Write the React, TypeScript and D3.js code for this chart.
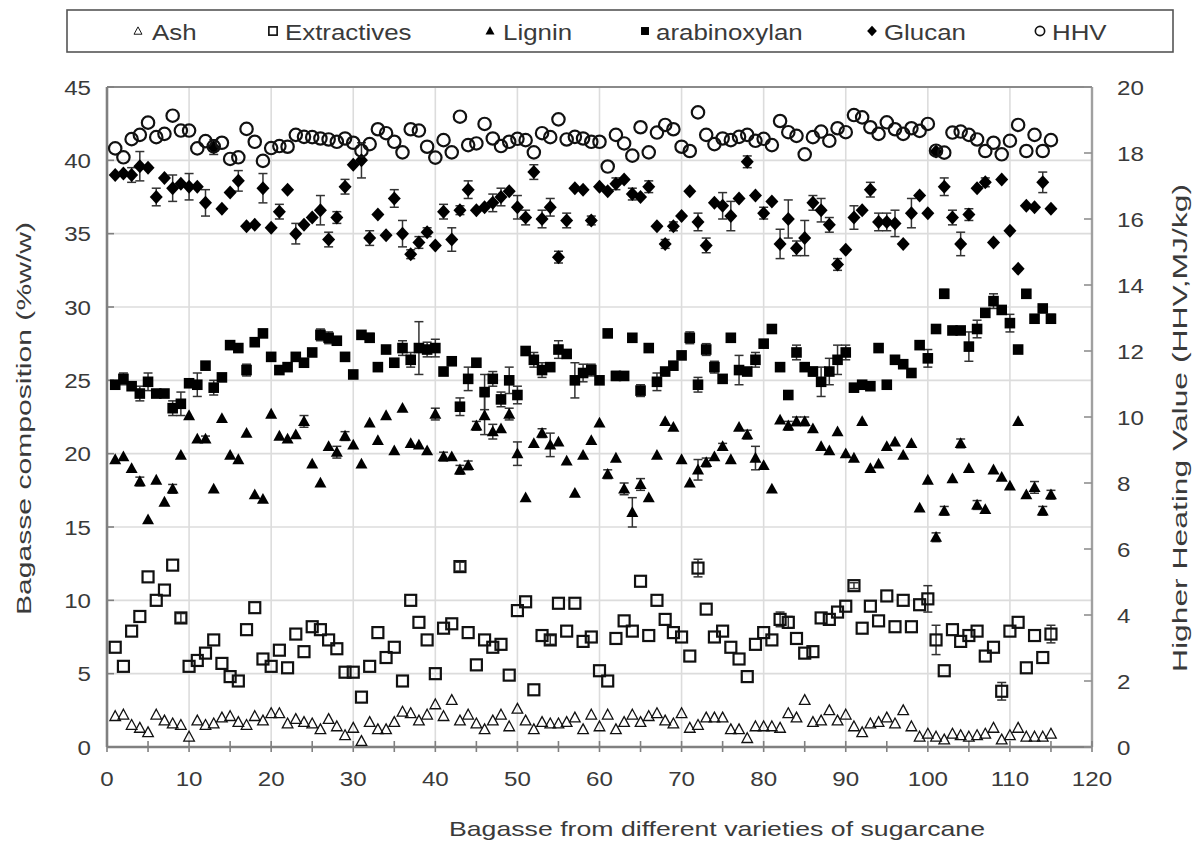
import React from 'react';
import * as d3 from 'd3';

const W = 1193;
const H = 845;

const ash = [2.1,2.2,1.5,1.3,1.0,2.2,1.8,1.6,1.5,0.7,1.8,1.5,1.6,2.0,2.1,1.7,1.5,2.1,1.8,2.3,2.3,1.6,1.9,1.7,1.6,1.2,1.9,1.4,0.8,1.3,0.4,1.7,1.2,1.2,1.7,2.4,2.3,1.8,2.2,2.9,2.1,3.2,1.8,2.2,1.6,1.2,1.8,2.2,1.4,2.6,1.8,1.2,1.7,1.6,1.6,1.7,2.0,1.2,2.2,1.4,2.2,1.2,1.7,2.2,1.7,2.1,2.3,1.8,1.6,2.3,1.3,1.5,2.0,2.0,2.0,1.2,1.2,0.6,1.4,1.4,1.4,1.3,2.3,2.0,3.2,1.7,1.8,2.5,1.8,2.2,1.4,1.0,1.6,1.7,2.0,1.6,2.5,1.4,0.7,0.9,0.7,0.5,0.9,0.8,0.7,0.8,0.9,1.3,0.5,0.8,1.3,0.7,0.7,0.7,0.9];

const extractives = [6.8,5.5,7.9,8.9,11.6,10.0,10.7,12.4,8.8,5.5,5.9,6.4,7.3,5.7,4.8,4.5,8.0,9.5,6.0,5.5,6.6,5.4,7.7,6.5,8.2,8.0,7.3,6.7,5.1,5.1,3.4,5.5,7.8,6.1,6.8,4.5,10.0,8.5,7.3,5.0,8.1,8.4,12.3,7.8,5.6,7.3,6.8,7.0,4.9,9.3,9.9,3.9,7.6,7.3,9.8,7.9,9.8,7.2,7.5,5.2,4.5,7.4,8.6,7.9,11.3,7.6,10.0,8.7,7.8,7.5,6.2,12.2,9.4,7.5,7.9,6.8,6.0,4.8,7.0,7.8,7.3,8.7,8.5,7.4,6.4,6.5,8.8,8.7,9.2,9.6,11.0,8.1,9.6,8.6,10.3,8.2,10.0,8.2,9.7,10.1,7.3,5.2,8.0,7.2,7.6,7.9,6.2,6.8,3.8,7.9,8.5,5.4,7.6,6.1,7.7];

const lignin = [19.6,19.8,19.0,18.1,15.5,18.2,16.7,17.6,19.9,22.6,21.0,21.0,17.6,22.4,19.9,19.6,21.4,17.2,16.9,22.7,21.2,21.0,21.3,22.2,19.3,18.0,20.5,20.1,21.2,20.6,19.3,22.1,20.9,22.6,20.2,23.1,20.7,20.6,20.2,22.7,19.8,19.8,18.9,19.2,21.9,22.6,21.5,21.7,22.7,20.0,17.0,20.7,21.4,20.6,20.8,19.5,17.3,19.9,20.9,22.1,18.6,19.7,17.6,16.0,17.9,17.0,19.9,22.2,21.8,19.6,18.0,18.9,19.4,19.8,20.5,19.6,21.8,21.3,19.7,19.2,17.6,22.3,21.9,22.2,22.2,21.7,20.5,20.2,21.5,20.0,19.7,22.2,19.0,19.3,20.5,20.8,19.9,20.7,16.3,18.2,14.3,16.1,18.3,20.7,19.0,16.5,16.2,18.9,18.4,17.8,22.2,17.2,17.7,16.1,17.2];

const arabinoxylan = [24.7,25.1,24.6,24.1,24.9,24.1,24.1,23.1,23.4,24.8,24.7,26.0,24.5,25.2,27.4,27.2,25.7,27.6,28.2,26.6,25.7,25.9,26.6,26.2,26.9,28.1,27.9,27.7,26.6,25.4,28.1,27.9,25.9,27.1,26.2,27.2,26.4,27.2,27.1,27.2,25.6,26.3,23.2,25.1,26.2,24.2,25.1,23.7,25.0,24.0,27.0,26.4,25.7,25.9,27.1,26.8,25.0,25.5,25.7,25.0,28.2,25.3,25.3,27.9,24.3,27.2,24.9,25.6,26.0,26.7,27.9,24.7,27.1,25.9,25.1,27.9,25.7,25.6,26.4,27.5,28.5,25.9,24.0,26.9,25.9,25.6,24.9,25.6,26.4,26.9,24.5,24.7,24.6,27.2,24.7,26.4,26.1,25.5,27.4,26.5,28.5,30.9,28.4,28.4,27.3,28.5,29.6,30.4,29.8,28.9,27.1,30.9,29.2,29.9,29.2];

const glucan = [39.0,39.1,39.0,39.6,39.5,37.5,38.8,38.1,38.4,38.2,38.2,37.1,40.9,36.7,37.8,38.6,35.5,35.6,38.1,35.4,36.5,38.0,35.0,35.6,36.1,36.6,34.6,36.1,38.2,39.7,40.0,34.7,36.3,34.9,37.4,35.0,33.6,34.4,35.1,34.2,36.5,34.6,36.6,38.0,36.6,36.8,37.1,37.5,37.9,36.8,36.1,39.2,36.0,36.8,33.4,35.9,38.1,38.0,35.9,38.2,37.9,38.4,38.7,37.7,37.5,38.2,35.5,34.3,35.5,36.2,37.9,35.8,34.2,37.1,36.9,36.2,37.4,39.9,37.6,36.4,37.2,34.3,36.0,34.0,34.7,37.1,36.6,35.6,32.9,33.9,36.1,36.6,38.0,35.8,35.8,35.7,34.3,36.4,37.6,36.4,40.6,38.2,36.1,34.3,36.3,38.1,38.5,34.4,38.7,35.2,32.6,36.9,36.8,38.5,36.7];

const hhv = [18.14,17.87,18.42,18.55,18.92,18.48,18.58,19.13,18.68,18.68,18.14,18.36,18.2,18.31,17.82,17.87,18.73,18.34,17.76,18.15,18.21,18.19,18.55,18.49,18.48,18.44,18.41,18.34,18.44,18.31,18.07,18.27,18.72,18.6,18.34,18.02,18.72,18.68,18.19,17.86,18.39,18.02,19.1,18.24,18.29,18.88,18.44,18.21,18.34,18.43,18.39,18.02,18.6,18.48,19.02,18.41,18.49,18.44,18.34,18.34,17.59,18.55,18.29,17.92,18.78,18.02,18.62,18.85,18.72,18.19,18.06,19.23,18.55,18.27,18.44,18.39,18.49,18.55,18.37,18.43,18.24,18.97,18.63,18.52,17.96,18.48,18.65,18.37,18.75,18.63,19.15,19.08,18.78,18.58,18.93,18.72,18.58,18.75,18.67,18.88,18.07,18.01,18.62,18.65,18.55,18.41,18.06,18.31,17.96,18.37,18.85,18.06,18.55,18.06,18.39];

// sparse error bars: [sample number, +/- error]
const glucanErr = [[3,0.5],[4,1.0],[6,0.6],[8,0.9],[10,0.9],[12,0.9],[13,0.5],[16,0.7],[19,1.0],[21,0.5],[23,0.7],[26,1.0],[27,0.5],[28,0.4],[29,0.5],[31,1.2],[32,0.5],[35,0.6],[36,0.9],[37,0.3],[38,0.4],[39,0.3],[41,0.5],[42,0.8],[43,0.3],[44,0.6],[47,0.6],[48,0.6],[50,0.8],[51,0.5],[52,0.5],[53,0.6],[54,0.6],[55,0.4],[56,0.5],[59,0.3],[62,0.4],[64,0.4],[66,0.4],[68,0.3],[69,0.3],[72,0.6],[73,0.5],[75,0.9],[76,1.0],[78,0.4],[80,0.4],[82,1.0],[83,1.3],[84,0.5],[85,1.2],[86,0.5],[87,0.8],[88,0.5],[89,0.4],[91,0.8],[93,0.5],[94,0.6],[95,0.6],[96,0.9],[98,1.0],[102,0.6],[103,0.5],[104,0.8],[105,0.4],[107,0.3],[114,0.7]];
const arabinoxylanErr = [[2,0.4],[4,0.5],[5,0.6],[8,0.5],[9,0.8],[11,0.8],[13,0.5],[17,0.4],[26,0.4],[27,0.4],[32,0.3],[36,0.5],[37,0.5],[38,1.8],[39,0.5],[40,0.6],[43,0.6],[44,0.8],[46,1.2],[47,0.5],[48,0.5],[49,0.9],[50,0.6],[52,0.5],[53,0.5],[55,0.6],[57,1.2],[58,0.6],[59,0.4],[62,0.3],[65,0.4],[67,0.6],[71,0.4],[72,0.5],[73,0.4],[74,0.4],[77,1.0],[79,0.5],[84,0.5],[86,0.3],[87,1.0],[88,0.9],[89,1.0],[90,0.5],[100,0.6],[102,0.3],[105,1.0],[106,0.6],[108,0.5],[110,0.6],[115,0.3]];
const ligninErr = [[4,0.3],[8,0.3],[12,0.2],[24,0.4],[28,0.4],[29,0.3],[40,0.4],[41,0.3],[43,0.3],[44,0.3],[45,0.3],[46,1.3],[47,0.5],[49,0.4],[50,0.8],[53,0.3],[54,0.8],[61,0.3],[63,0.4],[64,1.0],[65,0.4],[72,0.7],[73,0.3],[75,0.2],[78,0.3],[79,0.8],[83,0.3],[84,0.3],[85,0.3],[101,0.3],[102,0.3],[104,0.3],[106,0.3],[113,0.4],[114,0.3],[115,0.3]];
const extractivesErr = [[9,0.3],[43,0.3],[54,0.3],[72,0.6],[82,0.5],[83,0.4],[91,0.2],[100,0.9],[101,1.0],[109,0.6],[115,0.6]];

const xTicks = [0, 10, 20, 30, 40, 50, 60, 70, 80, 90, 100, 110, 120];
const xMinorTicks = d3.range(0, 121, 5);
const yTicks = [0, 5, 10, 15, 20, 25, 30, 35, 40, 45];
const y2Ticks = [0, 2, 4, 6, 8, 10, 12, 14, 16, 18, 20];

const legendItems = [
  { label: 'Ash', kind: 'ashTri', mx: 138, tx: 152 },
  { label: 'Extractives', kind: 'openSq', mx: 273, tx: 285 },
  { label: 'Lignin', kind: 'tri', mx: 490, tx: 503 },
  { label: 'arabinoxylan', kind: 'sq', mx: 645, tx: 656 },
  { label: 'Glucan', kind: 'dia', mx: 872, tx: 884 },
  { label: 'HHV', kind: 'circ', mx: 1040, tx: 1052 },
];

const FONT = '"Liberation Sans", Arial, sans-serif';
const TXT = '#3a3a3a';
const SX = 1.15;

function Marker({ kind, x, y, s = 1 }: { kind: string; x: number; y: number; s?: number }) {
  const t = `translate(${x},${y}) scale(${s})`;
  switch (kind) {
    case 'ashTri':
      return <path transform={t} d="M0,-5.5L5.3,4.3L-5.3,4.3Z" fill="none" stroke="#111" strokeWidth={1.3} />;
    case 'openSq':
      return <rect transform={t} x={-5.5} y={-5.5} width={11} height={11} fill="none" stroke="#111" strokeWidth={2.2} />;
    case 'tri':
      return <path transform={t} d="M0,-6.2L6,4.6L-6,4.6Z" fill="#000" />;
    case 'sq':
      return <rect transform={t} x={-5.3} y={-5.3} width={10.6} height={10.6} fill="#000" />;
    case 'dia':
      return <path transform={t} d="M0,-7L6.5,0L0,7L-6.5,0Z" fill="#000" />;
    case 'circ':
      return <circle transform={t} r={6.2} fill="none" stroke="#111" strokeWidth={2.2} />;
  }
  return null;
}

function STxt({ x, y, anchor = 'start', size = 22, children }: any) {
  return (
    <text
      transform={`translate(${x},${y}) scale(${SX},1)`}
      textAnchor={anchor}
      fontFamily={FONT}
      fontSize={size}
      fill={TXT}
    >
      {children}
    </text>
  );
}

export default function App() {
  const x = d3.scaleLinear().domain([0, 120]).range([107, 1092]);
  const y = d3.scaleLinear().domain([0, 45]).range([747, 87]);
  const y2 = d3.scaleLinear().domain([0, 20]).range([747, 87]);
  const samples = d3.range(1, ash.length + 1);

  const series = [
    { vals: ash, kind: 'ashTri', sc: y, err: [] as number[][] },
    { vals: extractives, kind: 'openSq', sc: y, err: extractivesErr },
    { vals: lignin, kind: 'tri', sc: y, err: ligninErr },
    { vals: arabinoxylan, kind: 'sq', sc: y, err: arabinoxylanErr },
    { vals: glucan, kind: 'dia', sc: y, err: glucanErr },
    { vals: hhv, kind: 'circ', sc: y2, err: [] as number[][] },
  ];

  const [x0, x1] = x.range();
  const [yb, yt] = y.range();

  return (
    <div style={{ position: 'absolute', left: 0, top: 0 }}>
      <svg width={W} height={H} style={{ display: 'block', background: '#fff' }}>
        {/* legend */}
        <rect x={67} y={10} width={1106} height={42} fill="#fff" stroke="#555" strokeWidth={1.6} />
        {legendItems.map((it) => (
          <g key={it.label}>
            <Marker kind={it.kind} x={it.mx} y={31} s={0.75} />
            <STxt x={it.tx} y={39.5} size={22.5}>{it.label}</STxt>
          </g>
        ))}

        {/* grid */}
        {yTicks.filter((t) => t > 0 && t < 45).map((t) => (
          <line key={'gy' + t} x1={x0} x2={x1} y1={y(t)} y2={y(t)} stroke="#dcdcdc" strokeWidth={1.6} />
        ))}
        {xTicks.filter((t) => t > 0 && t < 120).map((t) => (
          <line key={'gx' + t} x1={x(t)} x2={x(t)} y1={yb} y2={yt} stroke="#dcdcdc" strokeWidth={1.6} />
        ))}

        {/* frame */}
        <line x1={x0} x2={x1} y1={yt} y2={yt} stroke="#8a8a8a" strokeWidth={2} />
        <line x1={x0} x2={x1} y1={yb} y2={yb} stroke="#808080" strokeWidth={2.6} />
        <line x1={x0} x2={x0} y1={yb} y2={yt} stroke="#808080" strokeWidth={2.6} />
        <line x1={x1} x2={x1} y1={yb} y2={yt} stroke="#a0a0a0" strokeWidth={2.4} />

        {/* ticks */}
        {xMinorTicks.map((t) => (
          <line key={'tx' + t} x1={x(t)} x2={x(t)} y1={yb - 6} y2={yb + 5} stroke="#808080" strokeWidth={1.6} />
        ))}
        {yTicks.map((t) => (
          <line key={'ty' + t} x1={x0} x2={x0 + 7} y1={y(t)} y2={y(t)} stroke="#808080" strokeWidth={1.6} />
        ))}
        {y2Ticks.map((t) => (
          <line key={'ty2' + t} x1={x1 - 8} x2={x1} y1={y2(t)} y2={y2(t)} stroke="#909090" strokeWidth={1.6} />
        ))}

        {/* tick labels */}
        {xTicks.map((t) => (
          <STxt key={'lx' + t} x={x(t)} y={786} anchor="middle" size={21}>{t}</STxt>
        ))}
        {yTicks.map((t) => (
          <STxt key={'ly' + t} x={91} y={y(t) + 7.5} anchor="end" size={21}>{t}</STxt>
        ))}
        {y2Ticks.map((t) => (
          <STxt key={'ly2' + t} x={1117} y={y2(t) + 7.5} anchor="start" size={21}>{t}</STxt>
        ))}

        {/* axis titles */}
        <text x={449} y={836} fontFamily={FONT} fontSize={21} fill={TXT} textLength={536} lengthAdjust="spacingAndGlyphs">
          Bagasse  from  different  varieties  of  sugarcane
        </text>
        <text transform="translate(31,615) rotate(-90)" fontFamily={FONT} fontSize={21} fill={TXT} textLength={393} lengthAdjust="spacingAndGlyphs">
          Bagasse composition  (%w/w)
        </text>
        <text transform="translate(1187,672) rotate(-90)" fontFamily={FONT} fontSize={21} fill={TXT} textLength={488} lengthAdjust="spacingAndGlyphs">
          Higher Heating Value (HHV,MJ/kg)
        </text>

        {/* error bars */}
        {series.map((s, si) =>
          s.err.map(([i, e]) => {
            const cx = x(i);
            const v = s.vals[i - 1];
            const ya = s.sc(v + e);
            const yb2 = s.sc(v - e);
            return (
              <g key={'e' + si + '-' + i} stroke="#333" strokeWidth={1.5}>
                <line x1={cx} x2={cx} y1={ya} y2={yb2} />
                <line x1={cx - 4.5} x2={cx + 4.5} y1={ya} y2={ya} />
                <line x1={cx - 4.5} x2={cx + 4.5} y1={yb2} y2={yb2} />
              </g>
            );
          })
        )}

        {/* markers */}
        {series.map((s, si) => (
          <g key={'s' + si}>
            {samples.map((n) => (
              <Marker key={n} kind={s.kind} x={x(n)} y={s.sc(s.vals[n - 1])} />
            ))}
          </g>
        ))}
      </svg>
    </div>
  );
}
